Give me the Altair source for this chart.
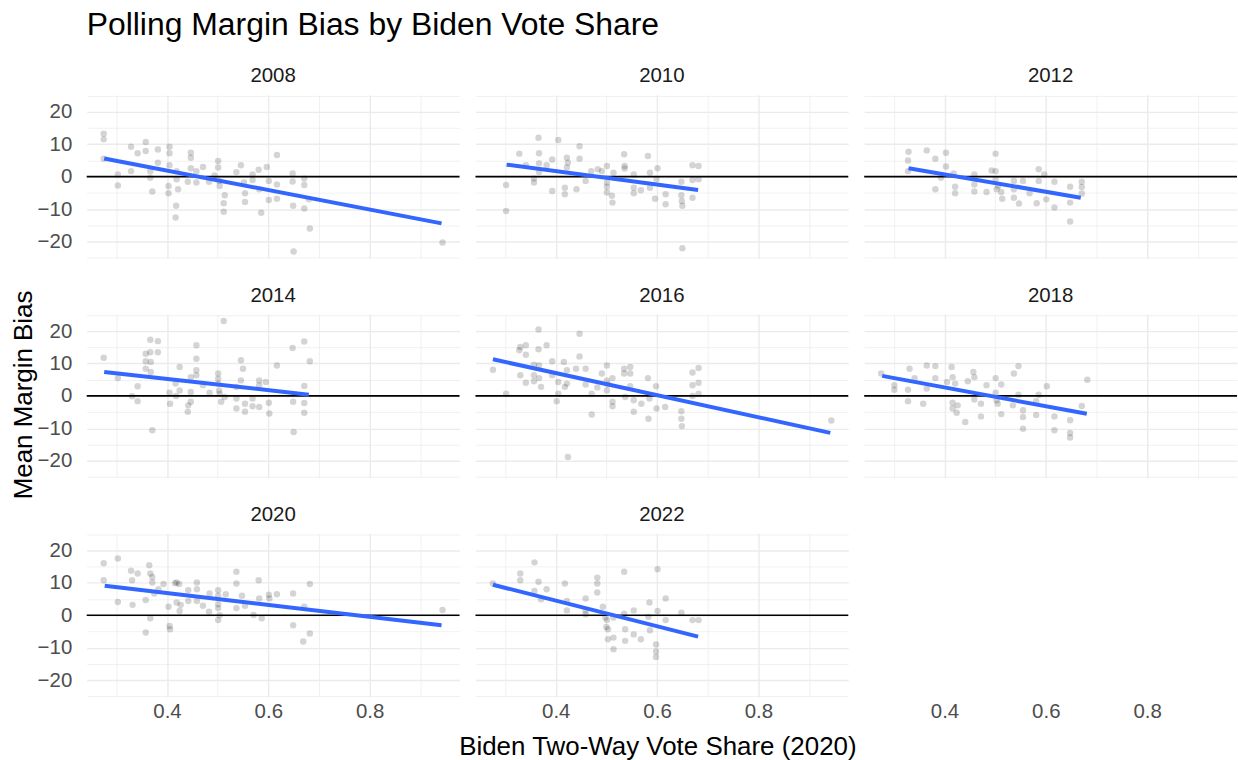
import altair as alt
import pandas as pd

# ---- data ----
years = ["2008", "2010", "2012", "2014", "2016", "2018", "2020", "2022"]

x_2008 = [0.275, 0.275, 0.275, 0.303, 0.303, 0.329, 0.329, 0.342, 0.358, 0.358, 0.367, 0.367, 0.371, 0.382, 0.382,
          0.405, 0.405, 0.405, 0.403, 0.403, 0.418, 0.417, 0.419, 0.419, 0.422, 0.441, 0.447, 0.447, 0.447, 0.458,
          0.458, 0.471, 0.483, 0.494, 0.501, 0.501, 0.503, 0.504, 0.514, 0.512, 0.512, 0.537, 0.546, 0.552, 0.554,
          0.554, 0.569, 0.569, 0.581, 0.582, 0.586, 0.597, 0.601, 0.601, 0.617, 0.617, 0.617, 0.648, 0.648, 0.649,
          0.650, 0.671, 0.671, 0.671, 0.680, 0.682, 0.944]
y_2008 = [13.2, 11.5, 5.5, 0.7, -2.7, 9.2, 1.7, 7.2, 10.7, 7.9, 1.7, -0.3, -4.6, 8.4, 4.3,
          9.2, 7.2, 3.5, -2.9, -5.1, -9.0, -12.6, -0.8, 1.7, -3.9, -1.6, 7.4, 5.8, 2.6, -1.8,
          1.7, 3.0, -1.6, 0.4, 4.8, 2.8, -1.3, -2.9, -5.7, -8.2, -10.8, 1.4, 3.5, -1.8, -5.1,
          -7.8, 0.7, -1.0, 2.1, -3.9, -11.1, 3.0, -1.3, -7.2, 6.7, -2.4, -6.8, 1.0, -1.5, -9.0,
          -23.1, -0.6, -2.6, -9.8, -7.0, -16.0, -20.3]

x_2010 = [0.302, 0.302, 0.328, 0.341, 0.357, 0.357, 0.366, 0.367, 0.367, 0.367, 0.382, 0.393, 0.393, 0.405, 0.418,
          0.418, 0.422, 0.422, 0.424, 0.441, 0.447, 0.447, 0.459, 0.470, 0.483, 0.491, 0.501, 0.501, 0.501, 0.501,
          0.511, 0.512, 0.514, 0.535, 0.536, 0.536, 0.554, 0.554, 0.554, 0.568, 0.582, 0.586, 0.586, 0.596, 0.599,
          0.601, 0.617, 0.617, 0.648, 0.648, 0.649, 0.650, 0.650, 0.670, 0.670, 0.670, 0.682, 0.682]
y_2010 = [-2.6, -10.6, 7.1, 3.5, -0.6, -1.8, 12.0, 7.2, 4.1, 1.4, 3.5, 5.3, -4.4, 11.3, -3.4,
          -5.4, 5.8, 2.8, 4.3, -3.9, 9.4, 5.5, -1.3, 1.7, 2.3, 1.7, 3.3, -1.8, -3.1, -4.9,
          -5.9, -8.0, 1.2, 6.9, 3.3, 2.5, 0.7, -3.4, -5.1, -4.2, 6.4, 1.2, -3.4, -6.8, -0.8,
          2.6, -5.4, -8.5, -1.6, -5.7, -7.5, -9.0, -22.1, 3.5, -1.0, -6.5, 3.3, -0.8]

x_2012 = [0.329, 0.328, 0.328, 0.365, 0.382, 0.382, 0.393, 0.403, 0.403, 0.418, 0.421, 0.421, 0.459, 0.459, 0.459,
          0.483, 0.493, 0.501, 0.501, 0.501, 0.503, 0.506, 0.512, 0.514, 0.537, 0.537, 0.537, 0.547, 0.555, 0.568,
          0.582, 0.586, 0.586, 0.597, 0.601, 0.617, 0.617, 0.648, 0.648, 0.648, 0.671, 0.671, 0.671]
y_2012 = [7.7, 5.0, 1.7, 8.1, 5.5, -3.9, -0.3, 7.4, 3.1, 1.0, -3.1, -5.1, 0.7, -2.4, -4.6,
          -4.7, 1.9, 7.1, 1.7, -0.8, -3.9, -2.9, -4.7, -6.8, -1.3, -3.9, -6.5, -8.3, -1.3, -5.1,
          -8.2, 2.3, -1.3, 0.7, -7.0, -1.6, -9.5, -3.1, -8.0, -13.8, -1.6, -3.2, -5.2]

x_2014 = [0.275, 0.303, 0.331, 0.342, 0.342, 0.358, 0.358, 0.358, 0.367, 0.367, 0.368, 0.368, 0.371, 0.382, 0.382,
          0.405, 0.406, 0.417, 0.418, 0.425, 0.425, 0.441, 0.442, 0.447, 0.447, 0.447, 0.458, 0.458, 0.458, 0.458,
          0.471, 0.484, 0.501, 0.501, 0.501, 0.503, 0.504, 0.507, 0.512, 0.514, 0.537, 0.537, 0.537, 0.546, 0.550,
          0.546, 0.554, 0.554, 0.569, 0.569, 0.582, 0.582, 0.582, 0.595, 0.601, 0.602, 0.617, 0.648, 0.649, 0.650,
          0.671, 0.671, 0.671, 0.671, 0.682]
y_2014 = [11.8, 5.5, -0.1, 3.0, -1.6, 13.0, 10.7, 8.4, 17.3, 13.5, 10.5, 7.4, -10.6, 16.9, 13.5,
          1.0, -2.4, 3.8, 0.0, 8.9, 1.7, -4.9, -2.9, 1.2, -1.8, 5.8, 15.6, 11.5, 7.9, 6.4,
          3.3, 1.0, 6.9, 5.3, 3.8, 1.7, 0.7, -1.8, 23.1, -0.3, 2.8, -0.8, -3.9, 11.0, 8.4,
          4.8, -2.4, -4.9, -0.8, -3.2, 4.8, 3.3, -3.4, 4.3, -2.1, -5.4, 9.4, 14.8, -1.8, -11.1,
          16.8, 3.1, -2.2, -5.2, 10.7]

x_2016 = [0.276, 0.302, 0.328, 0.330, 0.330, 0.341, 0.341, 0.341, 0.357, 0.357, 0.357, 0.366, 0.366, 0.367, 0.367,
          0.371, 0.382, 0.393, 0.393, 0.402, 0.405, 0.405, 0.416, 0.418, 0.422, 0.422, 0.424, 0.440, 0.447, 0.447,
          0.459, 0.459, 0.471, 0.471, 0.482, 0.491, 0.501, 0.501, 0.501, 0.503, 0.512, 0.512, 0.512, 0.535, 0.535,
          0.537, 0.547, 0.547, 0.547, 0.554, 0.554, 0.569, 0.582, 0.583, 0.585, 0.598, 0.599, 0.616, 0.648, 0.648,
          0.649, 0.670, 0.670, 0.670, 0.682, 0.682, 0.682, 0.944]
y_2016 = [8.1, 0.7, 14.1, 15.1, 6.4, 15.6, 12.7, 4.1, 9.6, 6.4, 4.5, 20.5, 14.4, 9.4, 5.5,
          2.8, 15.6, 10.7, 6.4, -1.6, 0.7, 4.3, 10.5, 2.8, 7.9, 3.8, -18.8, 8.4, 19.2, 12.2,
          8.4, 3.5, 0.7, -5.7, 2.6, 6.9, 9.4, 4.8, 1.7, 3.5, 5.5, -1.8, -3.2, 8.4, 6.9,
          -0.3, 8.9, 6.9, 3.0, -1.3, -4.9, -2.4, 5.5, -7.0, -0.8, 3.0, -3.9, -3.4, -4.7, -7.0,
          -9.3, 7.2, 3.3, 0.0, 8.6, 4.1, 0.7, -7.6]

x_2018 = [0.275, 0.301, 0.301, 0.328, 0.328, 0.331, 0.341, 0.358, 0.365, 0.365, 0.382, 0.382, 0.405, 0.414, 0.416,
          0.416, 0.416, 0.421, 0.424, 0.426, 0.441, 0.446, 0.457, 0.459, 0.459, 0.472, 0.472, 0.483, 0.501, 0.501,
          0.503, 0.505, 0.512, 0.512, 0.535, 0.537, 0.546, 0.546, 0.555, 0.555, 0.555, 0.581, 0.581, 0.586, 0.602,
          0.617, 0.617, 0.648, 0.648, 0.648, 0.671, 0.682]
y_2018 = [6.9, 3.3, 1.9, 1.9, -1.6, 8.4, 5.5, -2.4, 9.4, 2.3, 9.2, 5.5, 4.3, 8.9, 5.8,
          -2.1, -3.9, 3.8, -5.2, -2.9, -8.0, 4.5, 7.4, 5.8, -1.1, -2.4, -6.3, 3.3, 5.5, 1.0,
          -1.3, -2.4, 3.5, -5.6, -2.9, 6.9, 9.2, 0.4, -4.4, -6.5, -10.1, -1.6, -5.9, 0.4, 3.0,
          -6.3, -10.6, -7.5, -11.4, -12.8, -3.1, 5.0]

x_2020 = [0.275, 0.275, 0.303, 0.303, 0.329, 0.331, 0.332, 0.342, 0.358, 0.358, 0.365, 0.367, 0.367, 0.371, 0.371,
          0.375, 0.383, 0.393, 0.403, 0.405, 0.406, 0.416, 0.419, 0.424, 0.419, 0.427, 0.425, 0.442, 0.442, 0.459,
          0.459, 0.459, 0.471, 0.483, 0.484, 0.501, 0.501, 0.501, 0.501, 0.501, 0.504, 0.516, 0.537, 0.537, 0.537,
          0.548, 0.554, 0.571, 0.581, 0.582, 0.587, 0.601, 0.602, 0.617, 0.649, 0.649, 0.669, 0.671, 0.682, 0.682,
          0.944]
y_2020 = [16.0, 10.8, 17.5, 4.1, 13.7, 10.8, 3.2, 12.9, 4.7, -5.3, 15.4, 12.9, -0.9, 11.8, 10.1,
          6.7, 8.0, 9.6, 2.6, -3.3, -4.3, 9.9, 10.1, 9.6, 3.9, 3.2, 1.3, 7.7, 4.4, 10.1,
          8.0, 4.4, 2.9, 1.1, 6.7, 7.7, 6.0, 3.4, 2.2, -1.5, 0.0, 6.5, 13.4, 9.8, 2.2,
          6.0, 2.9, 0.1, 10.8, 5.2, -0.9, 6.3, 5.2, 6.5, 6.7, -3.1, -8.1, 2.6, 9.6, -5.6,
          1.6]

x_2022 = [0.276, 0.330, 0.330, 0.358, 0.358, 0.366, 0.371, 0.382, 0.418, 0.422, 0.422, 0.459, 0.459, 0.459, 0.482,
          0.482, 0.482, 0.493, 0.498, 0.500, 0.501, 0.503, 0.503, 0.514, 0.514, 0.514, 0.535, 0.535, 0.537, 0.537,
          0.554, 0.554, 0.568, 0.583, 0.585, 0.586, 0.598, 0.598, 0.598, 0.601, 0.601, 0.617, 0.617, 0.648, 0.670,
          0.682]
y_2022 = [9.8, 12.9, 10.8, 16.3, 7.5, 10.3, 4.9, 8.0, 9.8, 4.4, 1.5, 5.2, 1.5, 0.3, 11.6,
          9.8, 7.0, 2.6, -0.7, -3.6, -1.5, -4.3, -7.4, -0.7, -6.9, -10.5, 13.4, 0.5, -4.3, -7.9,
          1.5, -5.9, -7.4, -0.5, 3.9, -4.6, -9.0, -11.2, -12.9, 14.2, 1.3, 5.2, -1.5, 0.8, -1.5,
          -1.5]

# fitted (linear smooth) line end points
fit_x0 = [0.276, 0.303, 0.329, 0.276, 0.276, 0.277, 0.277, 0.276]
fit_y0 = [5.6, 3.7, 2.6, 7.4, 11.3, 6.2, 9.1, 9.4]
fit_x1 = [0.942, 0.681, 0.669, 0.680, 0.942, 0.681, 0.942, 0.681]
fit_y1 = [-14.4, -4.1, -6.5, 0.4, -11.4, -5.5, -3.1, -6.6]

title_text = "Polling Margin Bias by Biden Vote Share"
x_title = ["Biden Two-Way Vote Share (2020)"]
y_title = ["Mean Margin Bias"]

xs_all = [x_2008, x_2010, x_2012, x_2014, x_2016, x_2018, x_2020, x_2022]
ys_all = [y_2008, y_2010, y_2012, y_2014, y_2016, y_2018, y_2020, y_2022]

rows = []
for i, yr in enumerate(years):
    for xv, yv in zip(xs_all[i], ys_all[i]):
        rows.append({"year": yr, "x": xv, "y": yv, "kind": "pt", "o": 0})
    rows.append({"year": yr, "x": fit_x0[i], "y": fit_y0[i], "kind": "fit", "o": 0})
    rows.append({"year": yr, "x": fit_x1[i], "y": fit_y1[i], "kind": "fit", "o": 1})
    rows.append({"year": yr, "x": 0.5, "y": 0.0, "kind": "zero", "o": 0})
df = pd.DataFrame(rows)

FONT = "Liberation Sans"
GRID = "#EBEBEB"

x_enc = alt.X(
    "x:Q",
    title=None,
    scale=alt.Scale(domain=[0.2415, 0.9775], nice=False, zero=False),
    axis=alt.Axis(
        values=[0.3, 0.4, 0.5, 0.6, 0.7, 0.8, 0.9],
        format=".1f",
        labelExpr="indexof(['0.4','0.6','0.8'], datum.label) >= 0 ? datum.label : ''",
        gridColor=GRID,
        gridWidth={"condition": {"test": "indexof([0.4, 0.6, 0.8], datum.value) >= 0", "value": 1.4},
                   "value": 0.7},
        ticks=False, tickSize=0, domain=False,
        labelPadding=5,
    ),
)
y_enc = alt.Y(
    "y:Q",
    title=None,
    scale=alt.Scale(domain=[-25.2, 25.2], nice=False, zero=False),
    axis=alt.Axis(
        values=[-25, -20, -15, -10, -5, 0, 5, 10, 15, 20, 25],
        format="d",
        labelExpr="datum.value % 10 == 0 ? datum.label : ''",
        gridColor=GRID,
        gridWidth={"condition": {"test": "datum.value % 10 == 0", "value": 1.4}, "value": 0.7},
        ticks=False, tickSize=0, domain=False,
        labelPadding=14,
    ),
)

points = alt.Chart().transform_filter("datum.kind == 'pt'").mark_circle(
    color="black", opacity=0.17, size=42
).encode(x=x_enc, y=y_enc)

zero = alt.Chart().transform_filter("datum.kind == 'zero'").mark_rule(
    color="black", strokeWidth=1.7
).encode(y=y_enc)

fit = alt.Chart().transform_filter("datum.kind == 'fit'").mark_line(
    color="#3366FF", strokeWidth=4
).encode(x=x_enc, y=y_enc, order="o:Q")

panels = alt.layer(points, zero, fit, data=df).properties(
    width=374, height=164
).facet(
    facet=alt.Facet("year:O", title=None,
                    header=alt.Header(labelFontSize=20.5, labelColor="#1A1A1A", labelFont=FONT,
                                      labelPadding=8)),
    columns=3,
    spacing={"row": 27, "column": 14},
)

y_title_chart = alt.Chart(pd.DataFrame({"t": y_title})).mark_text(
    angle=270, fontSize=26, font=FONT, color="black", align="center", baseline="middle"
).encode(text="t:N", x=alt.value(24), y=alt.value(301)).properties(width=37, height=600)

x_title_chart = alt.Chart(pd.DataFrame({"t": x_title})).mark_text(
    fontSize=26, font=FONT, color="black", align="center", baseline="middle"
).encode(text="t:N", x=alt.value(573), y=alt.value(24)).properties(width=1150, height=34)

chart = alt.hconcat(
    y_title_chart,
    alt.vconcat(panels, x_title_chart, spacing=0),
    spacing=0,
).properties(
    title=alt.TitleParams(title_text, anchor="start", fontSize=32,
                          font=FONT, fontWeight="normal", color="black", dx=87, offset=25),
    padding={"left": 0, "top": 7, "right": 0, "bottom": 0},
).configure_view(stroke=None).configure_axis(
    labelFont=FONT, titleFont=FONT, labelFontSize=20.5, labelColor="#4D4D4D",
)

chart.save("out.html", embed_options={"renderer": "svg", "actions": False})
